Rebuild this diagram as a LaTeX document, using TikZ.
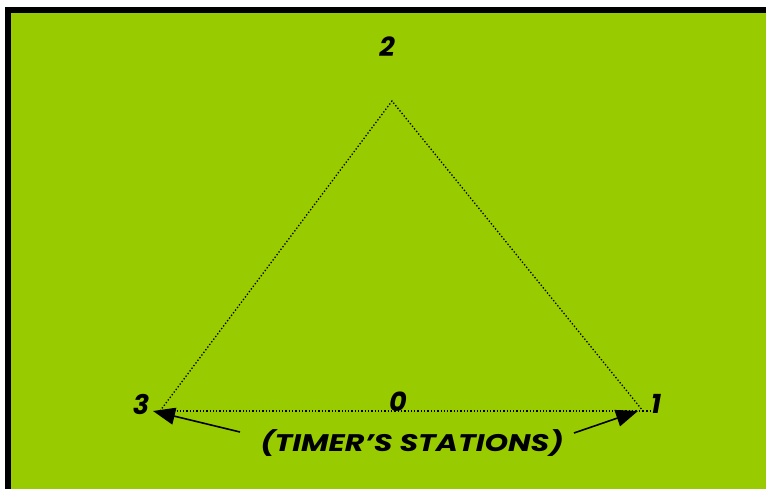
\documentclass[tikz,border=0pt]{standalone}
\usepackage{fontspec}
\setmainfont{Poppins}
\usetikzlibrary{arrows.meta}
\definecolor{bggreen}{HTML}{99CC00}
\tikzset{
  lbl/.style={font=\fontsize{27}{27}\selectfont\bfseries\itshape, inner sep=0pt},
  dotline/.style={line width=1.3pt, dash pattern=on 1.3pt off 2pt},
  tagarrow/.style={line width=1.6pt, -{Triangle[length=22pt,width=17pt]}}
}
\begin{document}
\begin{tikzpicture}[x=1pt,y=-1pt]
\useasboundingbox (0,0) rectangle (766,489);
\fill[white] (0,0) rectangle (766,489);
\fill[black] (5,7) rectangle (766,489);
\fill[bggreen] (11,13) rectangle (766,489);
\coordinate (apex) at (392,101);
\coordinate (left) at (160,411);
\coordinate (right) at (643,411);
\coordinate (tipL) at (153,411);
\coordinate (tipR) at (638,411);
\coordinate (tailL) at (240,432);
\coordinate (tailR) at (574,433);
\draw[dotline] (left) -- (apex) -- (right);
\draw[dotline] (left) -- (right);
\draw[dotline] (right) -- ++(7,0) coordinate (rightend);
\node[lbl] (n2) at (387,47) {2};
\node[lbl] (n3) at (141,404) {3};
\node[lbl] (n1) at (656,404) {1};
\node[lbl] (n0) at (398,402) {0};
\node[font=\fontsize{24}{24}\selectfont\bfseries\itshape, inner sep=0pt, xscale=1.25] (tag) at (412,443) {(TIMER'S STATIONS)};
\draw[tagarrow] (tailL) -- (tipL);
\draw[tagarrow] (tailR) -- (tipR);
\end{tikzpicture}
\end{document}
